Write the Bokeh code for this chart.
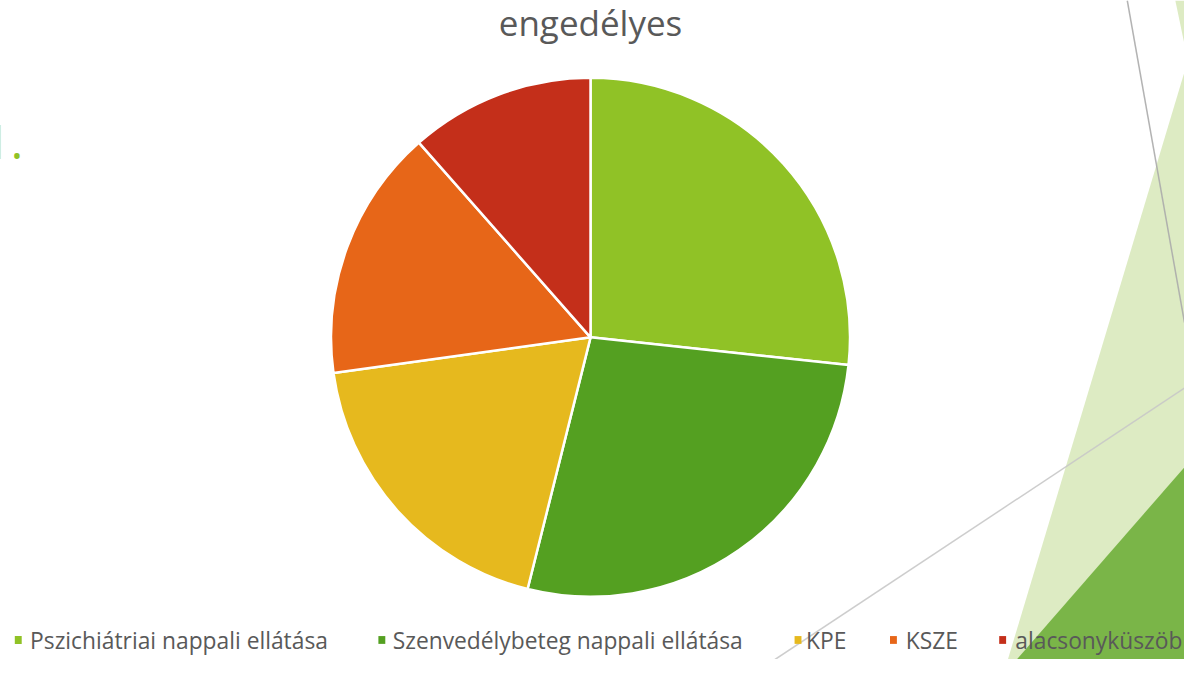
import math
from bokeh.plotting import figure
from bokeh.models import Range1d, ColumnDataSource
from bokeh.core.properties import value
from bokeh.embed import file_html
from bokeh.resources import INLINE

# ---- data ----
title = "engedélyes"
categories = ["Pszichiátriai nappali ellátása", "Szenvedélybeteg nappali ellátása",
              "KPE", "KSZE", "alacsonyküszöb"]
values = [26.7, 27.2, 18.9, 15.7, 11.5]
colors = ["#90C226", "#54A021", "#E6B91E", "#E76618", "#C42F1A"]

# ---- layout (reference pixel coordinates, y measured from top) ----
W, H = 1200, 675
def Y(ys):
    return H - ys

cx, cy, r = 598, 345, 263
legend_sq_x = [18, 386.5, 808.3, 905, 1015.7]
legend_tx_x = [30, 397.5, 816.5, 917.5, 1028.5]
legend_y = 656
font = value("Open Sans")
text_col = "#595959"

p = figure(width=1184, height=659, x_range=Range1d(0, W), y_range=Range1d(0, H),
           output_backend="svg", toolbar_location=None, min_border=0)
p.axis.visible = False
p.grid.visible = False
p.outline_line_color = None
p.background_fill_color = "white"
p.border_fill_color = "white"

# slide decorations
p.patch([1200, 1021, 1200], [Y(73), Y(675), Y(675)], fill_color="#DDEBC3", line_color=None)
p.patch([1190.7, 1200, 1200], [Y(0), Y(0), Y(45)], fill_color="#DDEBC3", line_color=None)
p.patch([1200, 1030, 1200], [Y(478), Y(675), Y(675)], fill_color="#7AB548", line_color=None)
p.line([1142, 1200], [Y(0), Y(330)], line_color="#ABABAB", line_width=1.5, line_alpha=0.9)
p.line([785, 1200], [Y(675), Y(397)], line_color="#C8C8C8", line_width=1.5, line_alpha=0.9)
p.text(x=[23], y=[Y(145)], text=["1."], text_font=font, text_font_size="47px",
       text_color="#90C226", text_align="right", text_baseline="alphabetic")

# pie
total = sum(values)
starts, ends = [], []
cum = 0.0
for v in values:
    a0 = cum / total
    cum += v
    a1 = cum / total
    starts.append(math.pi / 2 - 2 * math.pi * a1)
    ends.append(math.pi / 2 - 2 * math.pi * a0)
src = ColumnDataSource(dict(cat=categories, val=values, color=colors, start=starts, end=ends))
p.wedge(x=cx, y=Y(cy), radius=r, start_angle="start", end_angle="end", direction="anticlock",
        fill_color="color", line_color="white", line_width=2.5, source=src)

# title
p.text(x=[598], y=[Y(23)], text=[title], text_font=font, text_font_size="35px",
       text_color=text_col, text_align="center", text_baseline="alphabetic")

# legend
lsrc = ColumnDataSource(dict(sx=legend_sq_x, tx=legend_tx_x, cat=categories, color=colors,
                             sy=[Y(legend_y - 1)] * len(categories),
                             ty=[Y(legend_y)] * len(categories)))
p.rect(x="sx", y="sy", width=7, height=8, fill_color="color", line_color=None, source=lsrc)
p.text(x="tx", y="ty", text="cat", text_font=font, text_font_size="22.8px",
       text_color=text_col, text_align="left", text_baseline="middle", source=lsrc)

open("out.html", "w").write(file_html(p, INLINE))
